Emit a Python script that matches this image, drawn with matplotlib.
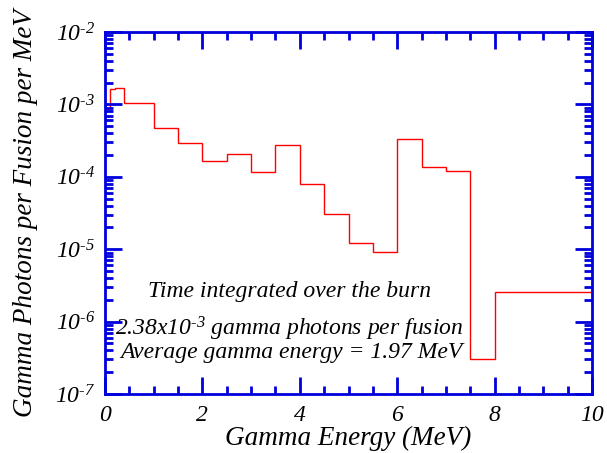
import matplotlib
matplotlib.use("Agg")
import matplotlib.pyplot as plt
from matplotlib.ticker import LogLocator, MultipleLocator, FixedLocator, NullFormatter

# Gamma spectrum, time integrated over the burn
edges = [0.0, 0.1, 0.2, 0.4, 1.0, 1.5, 2.0, 2.5, 3.0, 3.5, 4.0, 4.5,
         5.0, 5.5, 6.0, 6.5, 7.0, 7.5, 8.0, 10.0]
values = [8.6e-4, 1.62e-3, 1.69e-3, 1.05e-3, 4.68e-4, 2.96e-4, 1.64e-4,
          2.07e-4, 1.16e-4, 2.72e-4, 7.87e-5, 3.06e-5, 1.21e-5, 9.1e-6,
          3.37e-4, 1.38e-4, 1.21e-4, 3.0e-7, 2.54e-6]

x_ticks = [0, 2, 4, 6, 8, 10]
y_exponents = [-7, -6, -5, -4, -3, -2]

plt.rcParams["font.family"] = ["Liberation Serif", "DejaVu Serif"]
plt.rcParams["font.style"] = "italic"
plt.rcParams["mathtext.fontset"] = "custom"
plt.rcParams["mathtext.rm"] = "Liberation Serif:italic"
plt.rcParams["mathtext.it"] = "Liberation Serif:italic"
plt.rcParams["mathtext.default"] = "rm"

blue = "#0000dd"
fig = plt.figure(figsize=(6.07, 4.53), dpi=100)
ax = fig.add_axes([105 / 607, 1 - 394 / 453, (592 - 105) / 607, (394 - 32) / 453])

ax.stairs(values, edges, color="red", linewidth=1.0, baseline=None)

ax.set_xlim(0, 10)
ax.set_yscale("log")
ax.set_ylim(1e-7, 1e-2)

for s in ax.spines.values():
    s.set_color(blue)
    s.set_linewidth(2)

ax.xaxis.set_major_locator(FixedLocator(x_ticks))
ax.xaxis.set_minor_locator(MultipleLocator(0.5))
ax.set_xticklabels([str(t) for t in x_ticks])
ax.yaxis.set_major_locator(FixedLocator([10.0 ** e for e in y_exponents]))
ax.yaxis.set_minor_locator(LogLocator(base=10, subs=range(2, 10)))
ax.yaxis.set_minor_formatter(NullFormatter())
ax.set_yticklabels([r"$10^{\text{-}%d}$" % -e for e in y_exponents])

ax.tick_params(which="both", direction="in", top=True, right=True,
               color=blue, labelsize=17, labelcolor="black")
ax.tick_params(which="major", length=12, width=2)
ax.tick_params(axis="x", which="major", pad=8)
ax.tick_params(axis="y", which="major", pad=7)
ax.tick_params(which="minor", length=6, width=2)

ax.set_xlabel("Gamma Energy (MeV)", fontsize=19.5, labelpad=0)
ax.set_ylabel("Gamma Photons per Fusion per MeV", fontsize=19.5, labelpad=12)

ax.text(3.8, 2.6e-6, "Time integrated over the burn", ha="center", va="center",
        fontsize=17)
ax.text(7.35, 8.0e-7, r"2.38x10$^{\text{-}3}$ gamma photons per fusion",
        ha="right", va="center", fontsize=17)
ax.text(7.35, 3.8e-7, "Average gamma energy = 1.97 MeV", ha="right",
        va="center", fontsize=17)

fig.savefig("out.png", dpi=100)
